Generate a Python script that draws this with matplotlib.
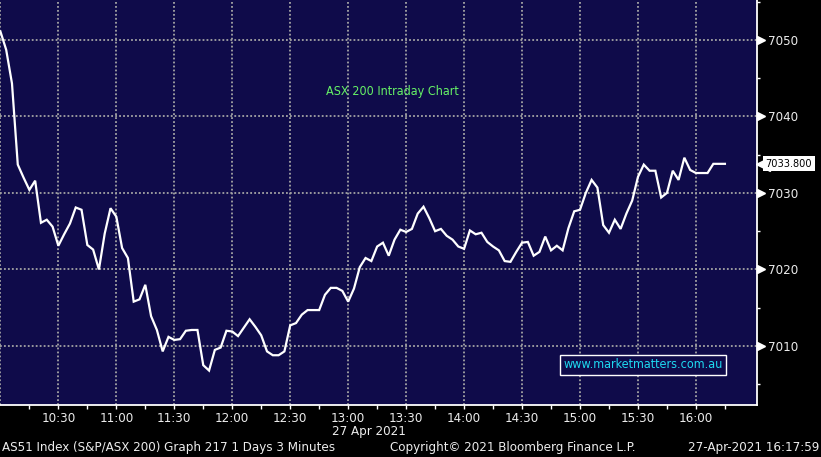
import numpy as np
import matplotlib.pyplot as plt
from matplotlib import font_manager
from matplotlib.transforms import blended_transform_factory

# 3-minute closes of AS51 on 27 Apr 2021, from 10:00
prices = [7051.1, 7048.7, 7044.3, 7033.7, 7032.0, 7030.4, 7031.6, 7026.1, 7026.5, 7025.6,
          7023.1, 7024.6, 7026.0, 7028.1, 7027.8, 7023.2, 7022.6, 7020.0, 7024.7, 7028.0,
          7026.9, 7022.8, 7021.5, 7015.8, 7016.1, 7018.0, 7013.9, 7012.1, 7009.3, 7011.2,
          7010.8, 7010.9, 7012.0, 7012.1, 7012.1, 7007.5, 7006.8, 7009.5, 7009.8, 7012.0,
          7011.9, 7011.3, 7012.4, 7013.5, 7012.5, 7011.4, 7009.3, 7008.8, 7008.8, 7009.3,
          7012.7, 7013.0, 7014.1, 7014.7, 7014.7, 7014.7, 7016.7, 7017.6, 7017.6, 7017.2,
          7015.8, 7017.5, 7020.3, 7021.5, 7021.1, 7023.0, 7023.5, 7021.8, 7023.9, 7025.2,
          7024.9, 7025.3, 7027.3, 7028.2, 7026.7, 7025.0, 7025.3, 7024.4, 7023.9, 7023.0,
          7022.7, 7025.1, 7024.6, 7024.8, 7023.6, 7023.0, 7022.5, 7021.1, 7021.0, 7022.3,
          7023.5, 7023.6, 7021.8, 7022.3, 7024.3, 7022.5, 7023.1, 7022.5, 7025.4, 7027.6,
          7027.8, 7030.0, 7031.7, 7030.7, 7025.8, 7024.8, 7026.5, 7025.3, 7027.3, 7029.0,
          7032.1, 7033.7, 7032.9, 7032.9, 7029.4, 7030.0, 7032.9, 7031.7, 7034.6, 7033.0,
          7032.6, 7032.6, 7032.6, 7033.8, 7033.8, 7033.8]
minutes = np.arange(len(prices)) * 3  # minutes after 10:00

tick_min = list(range(30, 361, 30))
tick_labels = ['10:30', '11:00', '11:30', '12:00', '12:30', '13:00',
               '13:30', '14:00', '14:30', '15:00', '15:30', '16:00']
y_major = [7010, 7020, 7030, 7040, 7050]
y_minor = [7005, 7015, 7025, 7035, 7045, 7055]
last_price = 7033.800

bg = '#0f0b4a'
grid_c = '#a4a4a4'
txt_c = '#ececec'

stretches = {(f.name, f.stretch) for f in font_manager.fontManager.ttflist}
cond = 'condensed' if ('DejaVu Sans', 'condensed') in stretches else 'normal'
fnt = dict(family='DejaVu Sans', stretch=cond)

fig = plt.figure(figsize=(8.21, 4.57), dpi=100, facecolor='black')
ax = fig.add_axes([0, 1 - 405 / 457, 757 / 821, 405 / 457])
ax.set_facecolor(bg)

ax.set_xlim(-0.2, 391.6)
ax.set_ylim(7002.3, 7055.2)

# grid
for t in [0] + tick_min:
    ax.axvline(t, color=grid_c, lw=1.3, ls=(0, (1, 1.2)), zorder=1)
for v in y_major:
    ax.axhline(v, color=grid_c, lw=1.3, ls=(0, (1, 1.2)), zorder=1)

ax.plot(minutes, prices, color='white', lw=1.6, zorder=3, solid_joinstyle='miter')

for s in ['top', 'left']:
    ax.spines[s].set_visible(False)
for s in ['right', 'bottom']:
    ax.spines[s].set_color('white')
    ax.spines[s].set_linewidth(1.3)

# x axis
ax.set_xticks(tick_min)
ax.set_xticklabels(tick_labels, color=txt_c, fontsize=9.5, **fnt)
ax.set_xticks(np.arange(15, 376, 30), minor=True)
ax.tick_params(axis='x', which='both', direction='out', length=3, width=1,
               color='white', pad=2)

# y axis on the right
ax.yaxis.tick_right()
ax.set_yticks(y_major)
ax.set_yticklabels([str(v) for v in y_major], color=txt_c, fontsize=9.5, **fnt)
ax.set_yticks(y_minor, minor=True)
ax.tick_params(axis='y', which='major', length=0, pad=8)
ax.tick_params(axis='y', which='minor', direction='out', length=2.5, width=1,
               color='white')
ytr = blended_transform_factory(ax.transAxes, ax.transData)
ax.plot([1.0055] * len(y_major), y_major, ls='none', marker='>', ms=5.5,
        color='white', transform=ytr, clip_on=False)

# last price tag
ax.plot([1.0075], [last_price], ls='none', marker='<', ms=10, color='white',
        transform=ytr, clip_on=False, zorder=5)
ax.text(1.0115, last_price, f'{last_price:.3f}', transform=ytr, ha='left',
        va='center', fontsize=7.8, color='black', **fnt, zorder=6,
        bbox=dict(boxstyle='square,pad=0.22', fc='white', ec='none'))

# annotations
ax.text(392 / 757, 1 - 92 / 405, 'ASX 200 Intraday Chart', transform=ax.transAxes,
        ha='center', va='center', color='#66f266', fontsize=9, **fnt)
ax.text(643 / 757, 1 - 365 / 405, 'www.marketmatters.com.au', transform=ax.transAxes,
        ha='center', va='center', color='#1ed9f0', fontsize=9, **fnt,
        bbox=dict(boxstyle='square,pad=0.25', fc=bg, ec='white', lw=1))

fig.text(369 / 821, 1 - 431 / 457, '27 Apr 2021', ha='center', va='center',
         color=txt_c, fontsize=9.5, **fnt)
fig.text(2 / 821, 1 - 448 / 457, 'AS51 Index (S&P/ASX 200) Graph 217 1 Days 3 Minutes',
         ha='left', va='center', color=txt_c, fontsize=9.5, **fnt)
fig.text(390 / 821, 1 - 448 / 457, 'Copyright\u00a9 2021 Bloomberg Finance L.P.',
         ha='left', va='center', color=txt_c, fontsize=9.5, **fnt)
fig.text(819 / 821, 1 - 448 / 457, '27-Apr-2021 16:17:59',
         ha='right', va='center', color=txt_c, fontsize=9.5, **fnt)

fig.savefig('out.png', dpi=100, facecolor='black')
